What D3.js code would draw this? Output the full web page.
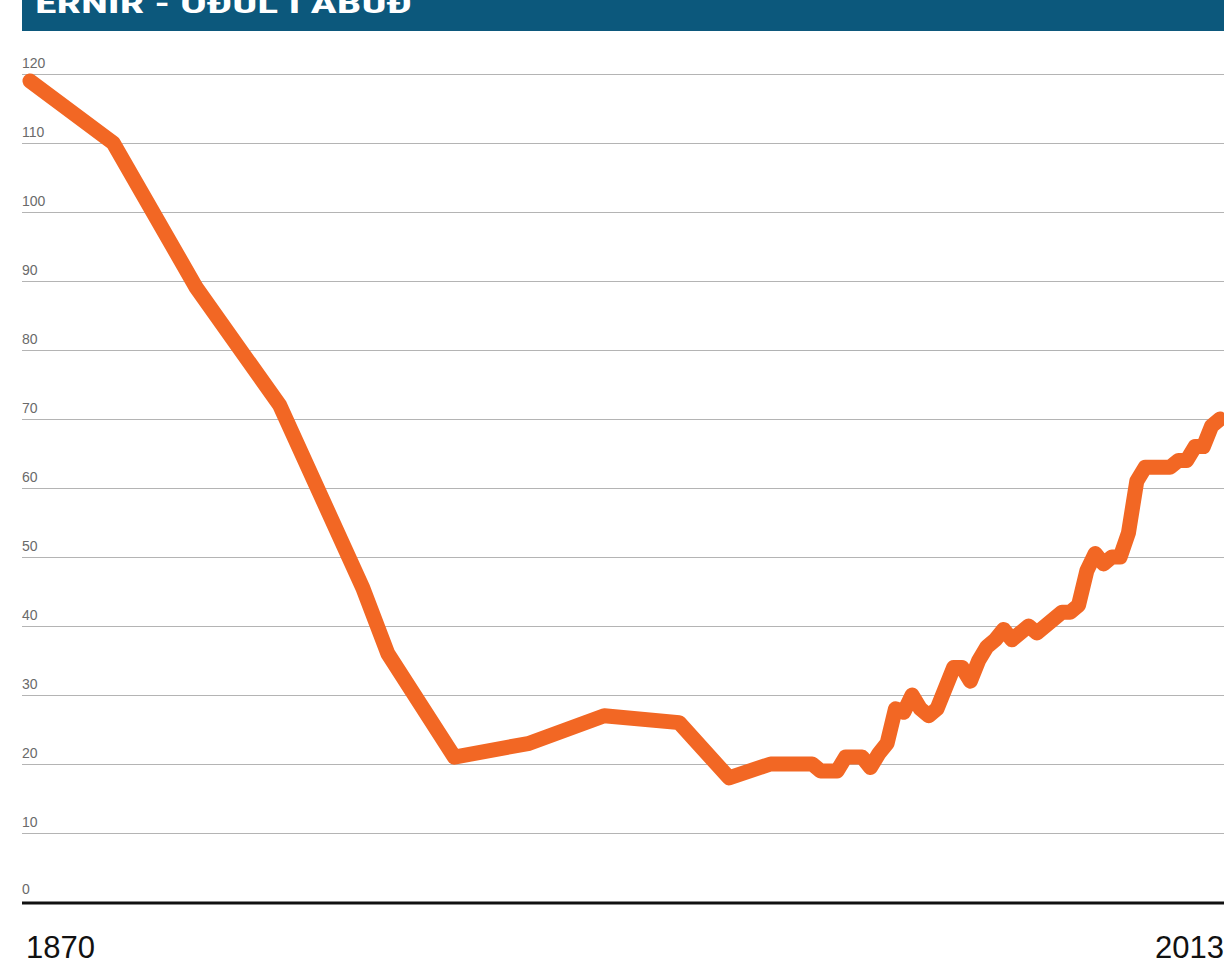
<!DOCTYPE html>
<html>
<head>
<meta charset="utf-8">
<script src="https://cdn.jsdelivr.net/npm/d3@7"></script>
<style>
  body { margin: 0; background: #fff; }
  svg { display: block; }
</style>
</head>
<body>
<div id="chart-container"></div>
<script>
// ernir - óðul í ábúð, 1870-2013
const years = [1870, 1880, 1890, 1900, 1910, 1913, 1921, 1930, 1939, 1948, 1954, 1959, 1964, 1965, 1967, 1968, 1970, 1971, 1972, 1973, 1974, 1975, 1976, 1977, 1978, 1979, 1981, 1982, 1983, 1984, 1985, 1986, 1987, 1988, 1990, 1991, 1994, 1995, 1996, 1997, 1998, 1999, 2000, 2001, 2002, 2003, 2004, 2007, 2008, 2009, 2010, 2011, 2012, 2013];
const pairs = [119, 110, 89, 72, 45.5, 36, 21, 23, 27, 26, 18, 20, 20, 19, 19, 21, 21, 19.5, 21.5, 23, 28, 27.5, 30, 28, 27, 28, 34, 34, 32, 35, 37, 38, 39.5, 38, 40, 39, 42, 42, 43, 48, 50.5, 49, 50, 50, 53.5, 61, 63, 63, 64, 64, 66, 66, 69, 70];
const yTicks = [0, 10, 20, 30, 40, 50, 60, 70, 80, 90, 100, 110, 120];
const xLabels = [1870, 2013];
const title = "ERNIR - ÓÐUL Í ÁBÚÐ";

const data = years.map((yr, i) => ({ year: yr, value: pairs[i] }));

const W = 1224, H = 966;
const left = 22, right = 1224;

const svg = d3.select("#chart-container").append("svg")
  .attr("width", W)
  .attr("height", H);

const x = d3.scaleLinear().domain([1870, 2013]).range([30, 1220]);
const y = d3.scaleLinear().domain([0, 120]).range([902, 74]);

// title bar (top of it runs off the page, like the original)
svg.append("rect")
  .attr("x", left).attr("y", 0)
  .attr("width", right - left).attr("height", 31)
  .attr("fill", "#0c587c");

svg.append("text")
  .attr("x", 35).attr("y", 13)
  .attr("fill", "#fff")
  .attr("font-family", "'Liberation Sans Narrow', 'Roboto Condensed', 'Liberation Sans', sans-serif")
  .attr("font-weight", "bold")
  .attr("font-size", 27)
  .attr("textLength", 377)
  .attr("lengthAdjust", "spacingAndGlyphs")
  .text(title);

// gridlines + labels
const grid = svg.append("g");
grid.selectAll("line")
  .data(yTicks.filter(d => d > 0))
  .enter().append("line")
  .attr("x1", left).attr("x2", right)
  .attr("y1", d => Math.round(y(d)) + 0.5)
  .attr("y2", d => Math.round(y(d)) + 0.5)
  .attr("stroke", "#b4b4b4")
  .attr("stroke-width", 1.2);

grid.selectAll("text")
  .data(yTicks)
  .enter().append("text")
  .attr("x", left)
  .attr("y", d => y(d) - (d === 0 ? 8 : 6))
  .attr("fill", "#6a6a6a")
  .attr("font-family", "'Liberation Sans', sans-serif")
  .attr("font-size", 14)
  .text(d => d);

// line
const line = d3.line()
  .x(d => x(d.year))
  .y(d => y(d.value));

svg.append("path")
  .datum(data)
  .attr("d", line)
  .attr("fill", "none")
  .attr("stroke", "#f26724")
  .attr("stroke-width", 15)
  .attr("stroke-linejoin", "round")
  .attr("stroke-linecap", "round");

// baseline
svg.append("line")
  .attr("x1", left).attr("x2", right)
  .attr("y1", y(0) + 1).attr("y2", y(0) + 1)
  .attr("stroke", "#111")
  .attr("stroke-width", 3);

// x labels
svg.selectAll(".xl")
  .data(xLabels)
  .enter().append("text")
  .attr("class", "xl")
  .attr("x", (d, i) => i === 0 ? 26 : 1224)
  .attr("y", 958)
  .attr("text-anchor", (d, i) => i === 0 ? "start" : "end")
  .attr("fill", "#111")
  .attr("font-family", "'Liberation Sans', sans-serif")
  .attr("font-size", 31)
  .text(d => d);
</script>
</body>
</html>
